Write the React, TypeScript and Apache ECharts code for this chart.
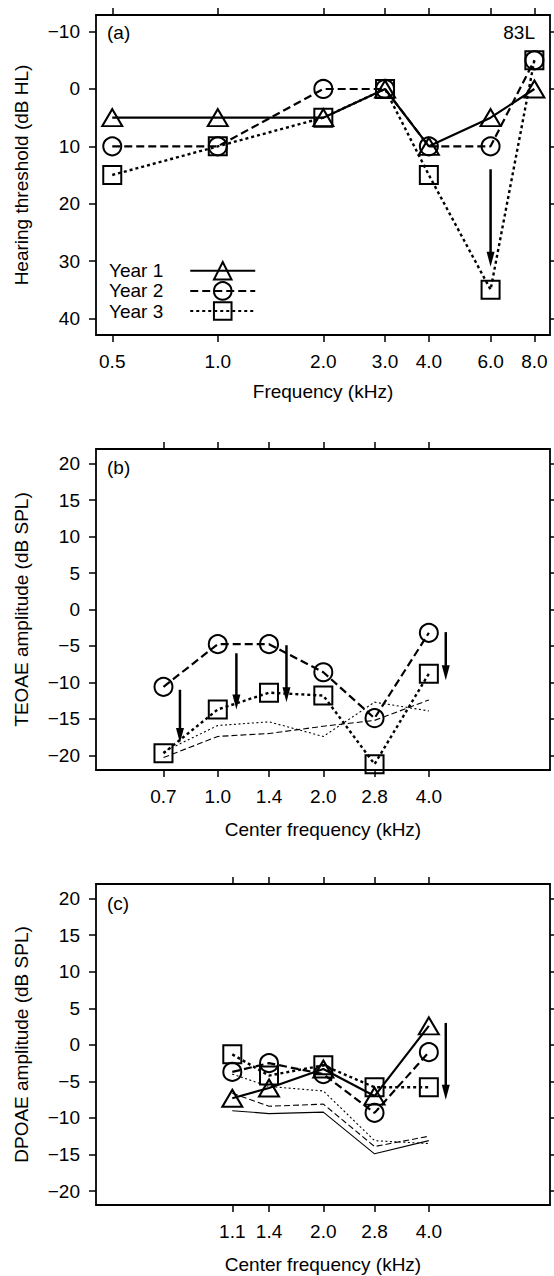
import React, { useEffect, useRef } from 'react';
import * as echarts from 'echarts';

// ---------- data ----------
// (a) pure-tone thresholds
const freqA = [0.5, 1.0, 2.0, 3.0, 4.0, 6.0, 8.0];
const year1A = [5, 5, 5, 0, 10, 5, 0];
const year2A = [10, 10, 0, 0, 10, 10, -5];
const year3A = [15, 10, 5, 0, 15, 35, -5];
const arrowsA = [[6.0, 14, 31]];

// (b) TEOAE
const freqB = [0.7, 1.0, 1.4, 2.0, 2.8, 4.0];
const year2B = [-10.6, -4.75, -4.75, -8.6, -14.9, -3.2];
const year3B = [-19.7, -13.7, -11.4, -11.8, -21.2, -8.8];
const noiseDottedB = [-19.5, -15.9, -15.4, -17.4, -12.7, -13.9];
const noiseDashedB = [-20.3, -17.4, -17.0, -16.0, -15.2, -12.4];
const arrowsB = [[0.78, -11.0, -18.3], [1.13, -6.0, -13.7], [1.57, -4.9, -12.7], [4.47, -3.1, -9.7]];

// (c) DPOAE
const freqC = [1.1, 1.4, 2.0, 2.8, 4.0];
const year1C = [-7.3, -5.9, -3.3, -7.0, 2.6];
const year2C = [-3.7, -2.5, -4.0, -9.3, -1.0];
const year3C = [-1.3, -4.2, -2.8, -5.8, -5.8];
const noiseSolidC = [-9.0, -9.4, -9.2, -14.9, -13.1];
const noiseDashedC = [-6.6, -8.4, -8.1, -13.9, -12.5];
const noiseDottedC = [-4.0, -5.7, -6.3, -13.1, -13.5];
const arrowsC = [[4.47, 3.0, -7.5]];

// tick labels
const xTicksA = [0.5, 1.0, 2.0, 3.0, 4.0, 6.0, 8.0];
const xTicksB = [0.7, 1.0, 1.4, 2.0, 2.8, 4.0];
const xTicksC = [1.1, 1.4, 2.0, 2.8, 4.0];
const yTicksA = [-10, 0, 10, 20, 30, 40];
const yTicksBC = [-20, -15, -10, -5, 0, 5, 10, 15, 20];

// ---------- helpers ----------
const FONT = "'Liberation Sans', Arial, Helvetica, sans-serif";
const L = (f: number) => Math.log2(f);
const pts = (fs: number[], vs: number[]) => fs.map((f, i) => [L(f), vs[i]]);
const X_MIN = -1.154;
const X_MAX = 3.148;
const fmtY = (v: number) => (v < 0 ? '\u2212' + Math.abs(v) : String(v));
const fmtX = (v: number) => Math.pow(2, v).toFixed(1);

const AXIS_LINE = { show: true, onZero: false, lineStyle: { color: '#000', width: 1.8 } };
const TICK_STYLE = { color: '#000', width: 1.5 };

function xAxes(grid: number, ticks: number[], name: string, nameGap: number) {
  const vals = ticks.map(L);
  return [
    {
      gridIndex: grid, type: 'value', position: 'bottom', min: X_MIN, max: X_MAX,
      axisLine: AXIS_LINE,
      axisTick: { show: true, customValues: vals, length: 7, lineStyle: TICK_STYLE },
      axisLabel: { show: true, customValues: vals, formatter: fmtX, margin: 17, fontSize: 19, color: '#000', fontFamily: FONT },
      splitLine: { show: false },
      name, nameLocation: 'middle', nameGap,
      nameTextStyle: { fontSize: 19, color: '#000', fontFamily: FONT },
    },
    {
      gridIndex: grid, type: 'value', position: 'top', min: X_MIN, max: X_MAX,
      axisLine: AXIS_LINE,
      axisTick: { show: true, customValues: vals, length: 7, lineStyle: TICK_STYLE },
      axisLabel: { show: false },
      splitLine: { show: false },
    },
  ];
}

function yAxes(grid: number, ticks: number[], min: number, max: number, inverse: boolean, name: string) {
  return [
    {
      gridIndex: grid, type: 'value', position: 'left', min, max, inverse,
      axisLine: AXIS_LINE,
      axisTick: { show: true, customValues: ticks, length: 7, lineStyle: TICK_STYLE },
      axisLabel: { show: true, customValues: ticks, formatter: fmtY, margin: 16, fontSize: 19, color: '#000', fontFamily: FONT },
      splitLine: { show: false },
      name, nameLocation: 'middle', nameGap: 65,
      nameTextStyle: { fontSize: 19, color: '#000', fontFamily: FONT },
    },
    {
      gridIndex: grid, type: 'value', position: 'right', min, max, inverse,
      axisLine: AXIS_LINE,
      axisTick: { show: true, customValues: ticks, length: 7, lineStyle: TICK_STYLE },
      axisLabel: { show: false },
      splitLine: { show: false },
    },
  ];
}

const MARK_STYLE = { color: 'rgba(0,0,0,0)', borderColor: '#000', borderWidth: 2 };
const STYLES: any = {
  y1: { type: 'solid', width: 2.2, symbol: 'triangle', symbolSize: [20, 17] },
  y2: { type: [8, 4], width: 2.2, symbol: 'circle', symbolSize: 18 },
  y3: { type: [3, 3], width: 2.4, symbol: 'rect', symbolSize: 18 },
};

function yearSeries(name: string, kind: string, grid: number, data: number[][]) {
  const s = STYLES[kind];
  return {
    name, type: 'line', xAxisIndex: grid * 2, yAxisIndex: grid * 2, data,
    symbol: s.symbol, symbolSize: s.symbolSize, showAllSymbol: true,
    itemStyle: MARK_STYLE,
    lineStyle: { color: '#000', width: s.width, type: s.type },
    z: 3,
  };
}

function noiseSeries(name: string, type: any, grid: number, data: number[][]) {
  return {
    name, type: 'line', xAxisIndex: grid * 2, yAxisIndex: grid * 2, data,
    symbol: 'none',
    lineStyle: { color: '#000', width: 1.1, type },
    z: 2,
  };
}

function arrowRender(_params: any, api: any) {
  const p1 = api.coord([api.value(0), api.value(1)]);
  const p2 = api.coord([api.value(0), api.value(2)]);
  const dx = p2[0] - p1[0];
  const dy = p2[1] - p1[1];
  const len = Math.hypot(dx, dy) || 1;
  const ux = dx / len;
  const uy = dy / len;
  const headL = 15;
  const headW = 4;
  const bx = p2[0] - ux * headL;
  const by = p2[1] - uy * headL;
  return {
    type: 'group',
    children: [
      { type: 'line', shape: { x1: p1[0], y1: p1[1], x2: bx + ux * 2, y2: by + uy * 2 }, style: { stroke: '#000', lineWidth: 2.5 } },
      {
        type: 'polygon',
        shape: { points: [[p2[0], p2[1]], [bx - uy * headW, by + ux * headW], [bx + uy * headW, by - ux * headW]] },
        style: { fill: '#000' },
      },
    ],
  };
}

function arrowSeries(grid: number, arrows: number[][]) {
  return {
    type: 'custom', xAxisIndex: grid * 2, yAxisIndex: grid * 2,
    data: arrows.map(([f, a, b]) => [L(f), a, b]),
    encode: { x: 0, y: [1, 2] },
    renderItem: arrowRender,
    clip: false,
    z: 4,
  };
}

export default function App() {
  const ref = useRef<HTMLDivElement>(null);

  useEffect(() => {
    if (!ref.current) return;
    const chart = echarts.init(ref.current, undefined, { renderer: 'svg' });

    const option: any = {
      animation: false,
      backgroundColor: '#fff',
      textStyle: { fontFamily: FONT, color: '#000' },
      grid: [
        { left: 96, right: 4, top: 15, height: 320 },
        { left: 96, right: 4, top: 449, height: 321 },
        { left: 96, right: 4, top: 884, height: 321 },
      ],
      xAxis: [
        ...xAxes(0, xTicksA, 'Frequency (kHz)', 47),
        ...xAxes(1, xTicksB, 'Center frequency (kHz)', 50),
        ...xAxes(2, xTicksC, 'Center frequency (kHz)', 50),
      ],
      yAxis: [
        ...yAxes(0, yTicksA, -12.9, 42.9, true, 'Hearing threshold (dB HL)'),
        ...yAxes(1, yTicksBC, -22, 22, false, 'TEOAE amplitude (dB SPL)'),
        ...yAxes(2, yTicksBC, -21.9, 22, false, 'DPOAE amplitude (dB SPL)'),
      ],
      legend: {
        data: ['Year 1', 'Year 2', 'Year 3'],
        orient: 'vertical',
        left: 109,
        top: 261,
        padding: 0,
        align: 'right',
        itemWidth: 65,
        itemHeight: 22,
        itemGap: 0.5,
        selectedMode: false,
        textStyle: { fontSize: 19, color: '#000', fontFamily: FONT, padding: [0, 22, 0, 0] },
      },
      series: [
        yearSeries('Year 1', 'y1', 0, pts(freqA, year1A)),
        yearSeries('Year 2', 'y2', 0, pts(freqA, year2A)),
        yearSeries('Year 3', 'y3', 0, pts(freqA, year3A)),
        arrowSeries(0, arrowsA),

        noiseSeries('TEOAE noise (dotted)', [2, 2.5], 1, pts(freqB, noiseDottedB)),
        noiseSeries('TEOAE noise (dashed)', [6, 3], 1, pts(freqB, noiseDashedB)),
        yearSeries('TEOAE Year 2', 'y2', 1, pts(freqB, year2B)),
        yearSeries('TEOAE Year 3', 'y3', 1, pts(freqB, year3B)),
        arrowSeries(1, arrowsB),

        noiseSeries('DPOAE noise (solid)', 'solid', 2, pts(freqC, noiseSolidC)),
        noiseSeries('DPOAE noise (dashed)', [6, 3], 2, pts(freqC, noiseDashedC)),
        noiseSeries('DPOAE noise (dotted)', [2, 2.5], 2, pts(freqC, noiseDottedC)),
        yearSeries('DPOAE Year 1', 'y1', 2, pts(freqC, year1C)),
        yearSeries('DPOAE Year 2', 'y2', 2, pts(freqC, year2C)),
        yearSeries('DPOAE Year 3', 'y3', 2, pts(freqC, year3C)),
        arrowSeries(2, arrowsC),
      ],
      graphic: [
        { type: 'text', x: 107, y: 32, style: { text: '(a)', fontSize: 19, fontFamily: FONT, fill: '#000', align: 'left', verticalAlign: 'middle' } },
        { type: 'text', x: 535, y: 32, style: { text: '83L', fontSize: 19, fontFamily: FONT, fill: '#000', align: 'right', verticalAlign: 'middle' } },
        { type: 'text', x: 107, y: 467, style: { text: '(b)', fontSize: 19, fontFamily: FONT, fill: '#000', align: 'left', verticalAlign: 'middle' } },
        { type: 'text', x: 107, y: 903, style: { text: '(c)', fontSize: 19, fontFamily: FONT, fill: '#000', align: 'left', verticalAlign: 'middle' } },
      ],
    };

    chart.setOption(option);
    return () => chart.dispose();
  }, []);

  return (
    <div
      ref={ref}
      style={{ position: 'absolute', left: 0, top: 0, width: 554, height: 1276, background: '#fff' }}
    />
  );
}
